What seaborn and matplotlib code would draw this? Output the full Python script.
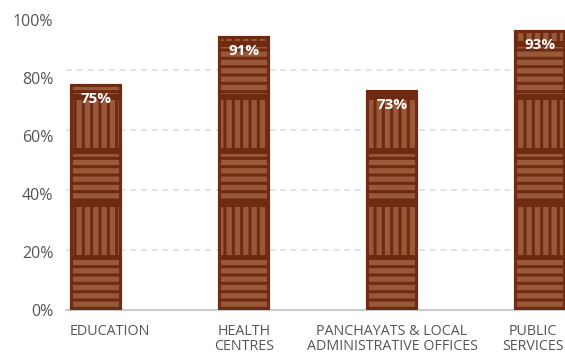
import numpy as np
import pandas as pd
import matplotlib
matplotlib.use("Agg")
import matplotlib.pyplot as plt
import matplotlib.transforms as mtrans
from matplotlib.patches import Rectangle
import seaborn as sns

# data
categories = ["EDUCATION", "HEALTH\nCENTRES", "PANCHAYATS & LOCAL\nADMINISTRATIVE OFFICES", "PUBLIC\nSERVICES"]
values = [75, 91, 73, 93]
tick_values = [0, 20, 40, 60, 80, 100]
tick_labels = ["0%", "20%", "40%", "60%", "80%", "100%"]

dark = "#6e2b12"
light = "#98593a"
grid_col = "#dddddd"

sns.set_style("white")
plt.rcParams["font.family"] = ["Open Sans", "DejaVu Sans"]
plt.rcParams["hatch.linewidth"] = 3.8

df = pd.DataFrame({"cat": categories, "val": values})

fig = plt.figure(figsize=(5.65, 3.54), dpi=100)
# axes in pixels: left 66, bottom 44, width 499, height 292
ax = fig.add_axes([66 / 565, 44 / 354, 499 / 565, 292 / 354])

bar_w = 50 / 148
sns.barplot(data=df, x="cat", y="val", color=dark, saturation=1, width=bar_w,
            edgecolor=dark, linewidth=1.5, ax=ax, zorder=2)

ax.set_xlim(-30 / 148, 3 + 25 / 148)
ymax = 97.33
ax.set_ylim(0, ymax)

# basket weave texture built from each bar's own geometry
block = 17.8
gap = 1.3
for p in ax.patches[:len(values)]:
    x0, w, h = p.get_x(), p.get_width(), p.get_height()
    inset = w * 0.045
    i = 0
    b = 0.0
    while b < h:
        top = min(b + block - gap, h - 0.6)
        if top > b + gap:
            r = Rectangle((x0 + inset, b + gap / 2), w - 2 * inset, top - b - gap / 2,
                          facecolor=dark, edgecolor=light, linewidth=0,
                          hatch="--" if i % 2 == 0 else "||", zorder=3)
            ax.add_patch(r)
        b += block
        i += 1
    ax.add_patch(Rectangle((x0, 0), w, h, facecolor="none", edgecolor=dark,
                           linewidth=1.5, zorder=4))

for i, v in enumerate(values):
    ax.annotate(f"{v}%", (i, v), xytext=(0, -10), textcoords="offset points",
                ha="center", va="center", color="white", fontsize=11,
                fontweight="bold", zorder=5)

# y labels sit on a slightly different scale than the gridlines (as in the original)
top_line = 96.67
ax.set_yticks([t * top_line / 100 for t in tick_values])
ax.set_yticklabels(tick_labels, fontsize=11.5, color="#555555")
ax.set_yticks([20, 40, 60, 80, top_line], minor=True)
ax.grid(False)
ax.grid(which="minor", axis="y", color=grid_col, linestyle=(0, (4, 3)), linewidth=1.1, zorder=0)
ax.set_axisbelow(True)

ax.set_xticks(range(len(categories)))
ax.set_xticklabels(categories, fontsize=10.3, color="#555555", linespacing=1.05)
ax.set_xlabel("")
ax.set_ylabel("")
ax.tick_params(axis="x", which="both", length=0, pad=10)
ax.tick_params(axis="y", which="both", length=0, pad=9)

labs = ax.get_xticklabels()
labs[0].set_ha("left")
labs[0].set_transform(labs[0].get_transform() + mtrans.ScaledTranslation(-0.26, 0, fig.dpi_scale_trans))
labs[-1].set_ha("right")
labs[-1].set_multialignment("center")
labs[-1].set_transform(labs[-1].get_transform() + mtrans.ScaledTranslation(0.24, 0, fig.dpi_scale_trans))

ax.axhline(0, color="#cccccc", linewidth=1.5, zorder=1, clip_on=False)
sns.despine(ax=ax, left=True, bottom=True)

fig.savefig("out.png", dpi=100)
